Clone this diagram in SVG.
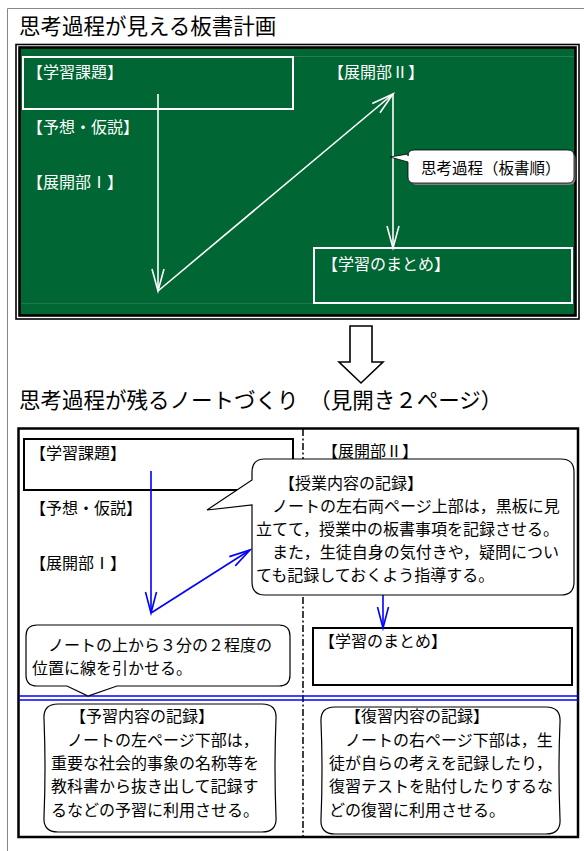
<svg xmlns="http://www.w3.org/2000/svg" width="584" height="851" viewBox="0 0 584 851">
<style>
text{font-family:"Noto Sans CJK JP","Noto Sans CJK SC",sans-serif;font-size:16px;fill:#000}
.title{font-size:21.5px}
.w{fill:#fff}
.wbox{fill:none;stroke:#fff;stroke-width:2}
.bbox{fill:none;stroke:#000;stroke-width:2}
.call{fill:#fff;stroke:#000;stroke-width:1.2}
.wl{fill:none;stroke:#fff;stroke-width:1.6}
.bl{fill:none;stroke:#0000ff;stroke-width:1.6}
</style>
<defs>
<marker id="aw" markerUnits="userSpaceOnUse" orient="auto" refX="0" refY="0" markerWidth="30" markerHeight="16" overflow="visible">
<path d="M-22,-6 L0,0 L-22,6" fill="none" stroke="#fff" stroke-width="1.6"/>
</marker>
<marker id="ab" markerUnits="userSpaceOnUse" orient="auto" refX="0" refY="0" markerWidth="30" markerHeight="16" overflow="visible">
<path d="M-21,-5.5 L0,0 L-21,5.5" fill="none" stroke="#0000ff" stroke-width="1.6"/>
</marker>
</defs>
<rect width="584" height="851" fill="#fff"/>
<path d="M7.5,851 V8.5 H584" fill="none" stroke="#888" stroke-width="1"/>

<g id="title1"><text class="title" x="19" y="34">思考過程が見える板書計画</text></g>

<g id="board">
<rect x="16" y="44.5" width="563" height="274.5" fill="none" stroke="#000" stroke-width="1.6"/>
<rect x="19.5" y="47.5" width="556" height="268" fill="#006633" stroke="#000" stroke-width="2.6"/>
<line x1="21" y1="56.5" x2="574" y2="56.5" stroke="#fff" stroke-opacity="0.15"/>
<line x1="21" y1="303.5" x2="574" y2="303.5" stroke="#fff" stroke-opacity="0.12"/>
</g>

<g id="b-kadai"><rect class="wbox" x="23" y="57" width="270" height="52"/><text class="w" x="27" y="78">【学習課題】</text></g>
<g id="b-tenkai2"><text class="w" x="328" y="78">【展開部Ⅱ】</text></g>
<g id="b-yosou"><text class="w" x="27" y="133">【予想・仮説】</text></g>
<g id="b-tenkai1"><text class="w" x="27" y="188">【展開部Ⅰ】</text></g>
<g id="b-matome"><rect class="wbox" x="314" y="248" width="258" height="55"/><text class="w" x="322" y="270">【学習のまとめ】</text></g>

<g id="board-connectors">
<line class="wl" x1="158" y1="94" x2="158" y2="291" marker-end="url(#aw)"/>
<line class="wl" x1="158" y1="291" x2="393" y2="94" marker-end="url(#aw)"/>
<line class="wl" x1="393" y1="94" x2="393" y2="248" marker-end="url(#aw)"/>
</g>

<g id="b-callout">
<rect x="410.5" y="152" width="165" height="33" rx="6" fill="#808080"/>
<path d="M414,150 H568 Q574,150 574,156 V177 Q574,183 568,183 H414 Q408,183 408,177 V162 L390,157 L408,154 V156 Q408,150 414,150 Z" fill="#fff" stroke="#000" stroke-width="0.8"/>
<text x="421" y="174" style="font-size:15.5px">思考過程（板書順）</text>
</g>

<g id="big-arrow"><polygon points="350,326 372,326 372,362 383,362 361,383 339,362 350,362" fill="#fff" stroke="#000" stroke-width="1.6"/></g>

<g id="title2"><text class="title" x="19" y="408">思考過程が残るノートづくり　（見開き２ページ）</text></g>

<g id="notebook">
<rect x="18.5" y="428.5" width="559.5" height="408.5" fill="none" stroke="#000" stroke-width="2.5"/>
<line x1="303" y1="429" x2="303" y2="837" stroke="#000" stroke-width="1.5" stroke-dasharray="7 2.5 2 2.5"/>
<line x1="19" y1="696" x2="578" y2="696" stroke="#0000ff" stroke-width="1.6"/>
<line x1="19" y1="700" x2="578" y2="700" stroke="#0000ff" stroke-width="1.6"/>
</g>

<g id="n-kadai"><rect class="bbox" x="24" y="439" width="269" height="51"/><text x="30" y="459">【学習課題】</text></g>
<g id="n-yosou"><text x="30" y="514">【予想・仮説】</text></g>
<g id="n-tenkai1"><text x="30" y="569">【展開部Ⅰ】</text></g>
<g id="n-tenkai2"><text x="322" y="457">【展開部Ⅱ】</text></g>
<g id="n-matome"><rect class="bbox" x="313" y="628" width="259" height="57"/><text x="319" y="647">【学習のまとめ】</text></g>

<g id="note-connectors">
<line class="bl" x1="151" y1="471" x2="151" y2="613" marker-end="url(#ab)"/>
<line class="bl" x1="151" y1="613" x2="250" y2="550" marker-end="url(#ab)"/>
<line class="bl" x1="383" y1="585" x2="383" y2="628" marker-end="url(#ab)"/>
</g>

<g id="c-jugyo">
<path class="call" d="M265,459 H561 Q574,459 574,472 V582 Q574,595 561,595 H265 Q252,595 252,582 V505 L207,510 L252,480 V472 Q252,459 265,459 Z"/>
<text x="279" y="489">【授業内容の記録】</text>
<text x="256" y="512">　ノートの左右両ページ上部は，黒板に見</text>
<text x="256" y="535">立てて，授業中の板書事項を記録させる。</text>
<text x="256" y="558">　また，生徒自身の気付きや，疑問につい</text>
<text x="256" y="581">ても記録しておくよう指導する。</text>
</g>

<g id="c-line">
<path class="call" d="M37,625 H279 Q290,625 290,636 V675 Q290,686 279,686 H117 L88,696 L67,686 H37 Q26,686 26,675 V636 Q26,625 37,625 Z"/>
<text x="32" y="651">　ノートの上から３分の２程度の</text>
<text x="32" y="674">位置に線を引かせる。</text>
</g>

<g id="c-yoshu">
<path class="call" d="M58,704 H262 Q277,704 276,719 Q274,768 276,817 Q277,832 262,832 H58 Q43,832 44,817 Q46,768 44,719 Q43,704 58,704 Z"/>
<text x="70" y="722">【予習内容の記録】</text>
<text x="51" y="746">　ノートの左ページ下部は，</text>
<text x="51" y="769">重要な社会的事象の名称等を</text>
<text x="51" y="792">教科書から抜き出して記録す</text>
<text x="51" y="816">るなどの予習に利用させる。</text>
</g>

<g id="c-fukushu">
<path class="call" d="M335,707 H546 Q561,707 560,722 Q558,770 560,819 Q561,834 546,834 H335 Q320,834 321,819 Q323,770 321,722 Q320,707 335,707 Z"/>
<text x="345" y="722">【復習内容の記録】</text>
<text x="329" y="746">　ノートの右ページ下部は，生</text>
<text x="329" y="769">徒が自らの考えを記録したり，</text>
<text x="329" y="792">復習テストを貼付したりするな</text>
<text x="329" y="816">どの復習に利用させる。</text>
</g>
</svg>
